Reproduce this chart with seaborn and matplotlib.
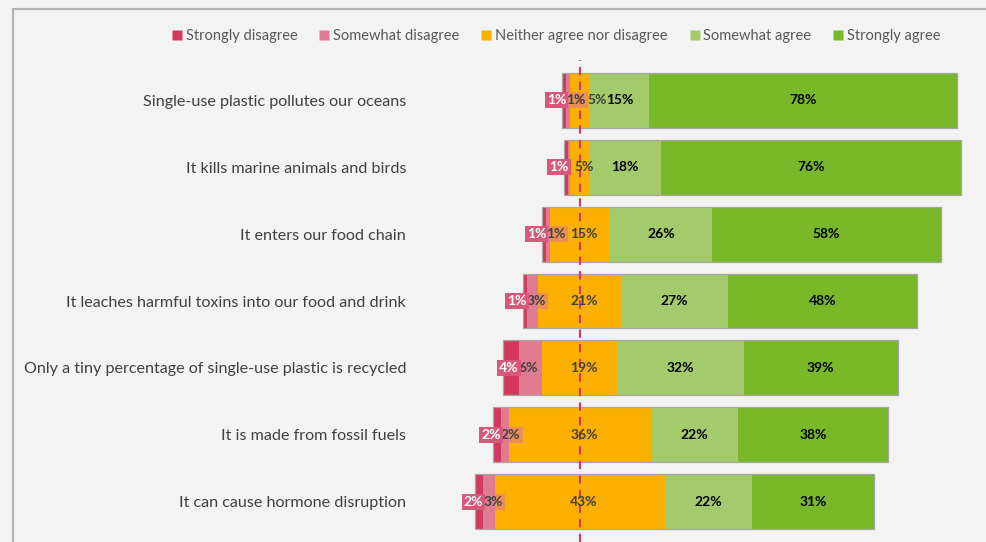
import numpy as np
import seaborn as sns
import matplotlib.pyplot as plt
from matplotlib.lines import Line2D

#  Данные (проценты ответов)
statements = [
    "Single-use plastic pollutes our oceans",
    "It kills marine animals and birds",
    "It enters our food chain",
    "It leaches harmful toxins into our food and drink",
    "Only a tiny percentage of single-use plastic is recycled",
    "It is made from fossil fuels",
    "It can cause hormone disruption",
]
strongly_disagree = [1, 1, 1, 1, 4, 2, 2]
somewhat_disagree = [1, 0.4, 1, 3, 6, 2, 3]
neither = [5, 5, 15, 21, 19, 36, 43]
somewhat_agree = [15, 18, 26, 27, 32, 22, 22]
strongly_agree = [78, 76, 58, 48, 39, 38, 31]

categories = ["Strongly disagree", "Somewhat disagree", "Neither agree nor disagree",
              "Somewhat agree", "Strongly agree"]
colors = ["#d3395f", "#e07c91", "#fbb000", "#a3cb6c", "#79b829"]

bg = "#f3f3f3"
sns.set_theme(style="white")
plt.rcParams["font.family"] = ["Lato", "DejaVu Sans"]

sd = np.array(strongly_disagree, dtype=float)
swd = np.array(somewhat_disagree, dtype=float)
ne = np.array(neither, dtype=float)
sa = np.array(somewhat_agree, dtype=float)
sta = np.array(strongly_agree, dtype=float)
half = ne / 2

fig = plt.figure(figsize=(9.86, 5.42), dpi=100, facecolor=bg)
ax = fig.add_axes([420 / 986, 0, 555 / 986, 482 / 542])
ax.set_facecolor(bg)

#  Слои: от внешних к внутренним
layers = [
    (half + sa + sta, colors[4]),
    (half + sa, colors[3]),
    (half, colors[2]),
    (-(half + swd + sd), colors[0]),
    (-(half + swd), colors[1]),
    (-half, colors[2]),
]
for vals, c in layers:
    sns.barplot(x=vals, y=statements, orient="h", color=c, saturation=1,
                width=0.82, linewidth=0, errorbar=None, ax=ax)

#  Контур всей полосы
left = -(half + swd + sd)
total = sd + swd + ne + sa + sta
ax.barh(np.arange(len(statements)), total, left=left, height=0.82, fill=False,
        edgecolor="#a6a6a6", linewidth=0.9, zorder=3)

ax.axvline(0, color="#d3395f", linestyle=(0, (4, 3)), linewidth=1.5, zorder=4)

#  Подписи значений
fs = 10
for i in range(len(statements)):
    edge = -(half[i] + swd[i])
    ax.text(edge, i, f"{sd[i]:.0f}%", ha="right", va="center", fontsize=fs,
            fontweight="bold", color="white", zorder=6,
            bbox=dict(boxstyle="square,pad=0.15", fc="#d6587b", ec="none"))
    ne_x = 1.0
    if round(swd[i]) > 0:
        ax.text(edge, i, f"{swd[i]:.0f}%", ha="left", va="center", fontsize=fs,
                fontweight="bold", color="#404040", zorder=5,
                bbox=dict(boxstyle="square,pad=0.15", fc="#e07c91", ec="none", alpha=0.6))
        ne_x = max(ne_x, edge + 7.8)
    ax.text(ne_x, i, f"{ne[i]:.0f}%", ha="center", va="center", fontsize=fs,
            fontweight="bold", color="#404040", zorder=5)
    ax.text(half[i] + sa[i] / 2, i, f"{sa[i]:.0f}%", ha="center", va="center",
            fontsize=fs, fontweight="bold", color="black", zorder=5)
    ax.text(half[i] + sa[i] + sta[i] / 2, i, f"{sta[i]:.0f}%", ha="center", va="center",
            fontsize=fs, fontweight="bold", color="black", zorder=5)

ax.set_xlim(-40.5, 100.1)
ax.set_ylim(6.6, -0.6)
ax.set_xticks([])
ax.set_xlabel("")
ax.set_ylabel("")
ax.tick_params(axis="y", length=0, pad=10, labelsize=11.6, labelcolor="#404040")
for s in ax.spines.values():
    s.set_visible(False)

#  Легенда
handles = [Line2D([], [], marker="s", linestyle="none", markersize=7,
                  markerfacecolor=c, markeredgecolor="none") for c in colors]
fig.legend(handles, categories, loc="center", bbox_to_anchor=(0.564, 1 - 36 / 542),
           ncol=5, frameon=False, fontsize=10.5, handlelength=0.7, handletextpad=0.25,
           columnspacing=1.5, labelcolor="#595959")

#  Рамка
fig.add_artist(Line2D([13 / 986, 13 / 986], [0, 1 - 9 / 542], color="#b4b4b4", lw=1.6))
fig.add_artist(Line2D([13 / 986, 1], [1 - 9 / 542, 1 - 9 / 542], color="#b4b4b4", lw=1.6))

fig.savefig("out.png", dpi=100, facecolor=bg)
